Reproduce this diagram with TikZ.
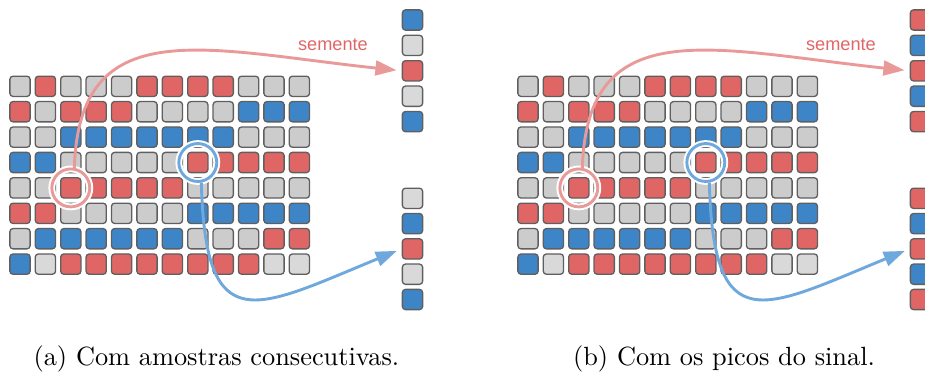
\documentclass[tikz,border=0pt]{standalone}
\usepackage{fontspec}
\usepackage{xcolor}
\usepackage{tikz}
\usetikzlibrary{arrows.meta}
\newfontfamily\semfont{Liberation Sans}

\definecolor{cellR}{HTML}{E06666}
\definecolor{cellB}{HTML}{3D85C6}
\definecolor{cellG}{HTML}{CCCCCC}
\definecolor{cellL}{HTML}{D9D9D9}
\definecolor{cellline}{HTML}{5F5F5F}
\definecolor{seedpink}{HTML}{EA9999}
\definecolor{seedtext}{HTML}{E06666}
\definecolor{peakblue}{HTML}{6FA8DC}

\tikzset{
  cell/.style={rectangle, rounded corners=1.2pt, draw=cellline, line width=0.5pt, minimum size=7.7pt, inner sep=0pt},
  ring/.style={circle, draw=#1, line width=1.1pt, minimum size=14.4pt, inner sep=0pt, preaction={draw=white, line width=2.6pt}},
  link/.style={draw=#1, line width=1.1pt, -{Triangle[length=8pt, width=5.6pt]}, shorten >=2pt},
}

\begin{document}
\begin{tikzpicture}[x=0.3797pt, y=-0.3797pt]
\useasboundingbox (0,0) rectangle (925,374);
\clip (0,0) rectangle (925,374);

% the two grids are the same
\foreach \p/\dx in {a/0, b/508} {
  \foreach \row [count=\r from 0] in {{G,R,G,G,G,R,R,R,R,G,G,G},{R,G,R,R,R,G,G,G,G,B,B,B},{G,G,B,B,B,B,B,B,B,G,G,G},{B,B,G,G,G,G,G,R,R,R,R,R},{G,G,R,R,R,R,R,G,G,G,G,G},{R,R,G,G,G,G,G,B,B,B,B,B},{G,B,B,B,B,B,B,G,G,G,R,R},{B,L,R,R,R,R,R,R,R,R,L,L}} {
    \foreach \c [count=\k from 0] in \row
      \node [cell, fill=cell\c] (\p-\r-\k) at (\dx+20+25.4*\k, 86.3+25.4*\r) {};
  }
}

% picked samples
\foreach \c [count=\k from 0] in {B,L,R,L,B}
  \node [cell, fill=cell\c] (a-s-\k) at (412.5, 20+25.4*\k) {};
\foreach \c [count=\k from 0] in {L,B,R,L,B}
  \node [cell, fill=cell\c] (a-t-\k) at (412.5, 198.3+25.3*\k) {};
\foreach \c [count=\k from 0] in {R,B,R,B,R}
  \node [cell, fill=cell\c] (b-s-\k) at (920.5, 20+25.4*\k) {};
\foreach \c [count=\k from 0] in {R,B,R,B,R}
  \node [cell, fill=cell\c] (b-t-\k) at (920.5, 198.3+25.3*\k) {};

\foreach \p/\dx in {a/0, b/508} {
  \node [ring=seedpink] (\p-pk) at (\p-4-2) {};
  \node [ring=peakblue] (\p-bl) at (\p-3-7) {};
  \draw [link=seedpink] (\p-pk.80) .. controls +(5,-157) and +(-197,-21) .. (\p-s-2.west);
  \draw [link=peakblue] (\p-bl.-80) .. controls +(4,159) and +(-146,60) .. (\p-t-2.west);
  \node [font=\semfont\fontsize{6.9}{8}\selectfont, text=seedtext, anchor=base] (\p-sem) at (\dx+333, 50) {semente};
}

\node [anchor=base] (a-cap) at (216.4, 365) {(a) Com amostras consecutivas.};
\node [anchor=base] (b-cap) at (724, 365) {(b) Com os picos do sinal.};
\end{tikzpicture}
\end{document}
